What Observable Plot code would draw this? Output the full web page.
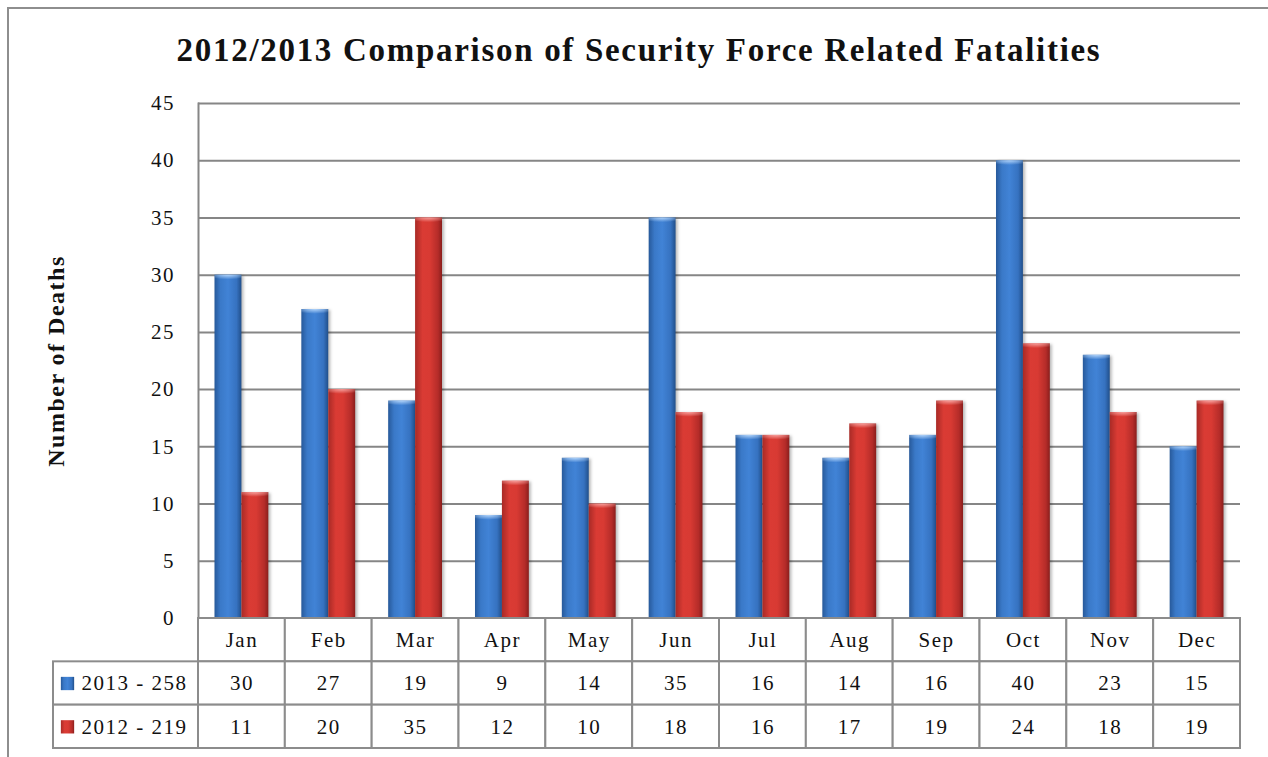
<!DOCTYPE html>
<html>
<head>
<meta charset="utf-8">
<script src="https://cdn.jsdelivr.net/npm/d3@7"></script>
<script src="https://cdn.jsdelivr.net/npm/@observablehq/plot@0.6"></script>
<style>
  body { margin: 0; background: #fff; }
  #chart { position: relative; width: 1268px; height: 757px; overflow: hidden; background: #fff;
           font-family: "Liberation Serif", "DejaVu Serif", serif; color: #111; }
  #border { position: absolute; left: 7px; top: 7px; right: -10px; bottom: -10px;
            border-top: 2px solid #8e8e8e; border-left: 2px solid #8e8e8e; }
  #title { position: absolute; left: 0; width: 1278px; top: 34px; text-align: center;
           font-size: 33px; font-weight: bold; line-height: 33px; letter-spacing: 1.7px; }
  .layer { position: absolute; left: 0; }
  .bars g[aria-label="bar"] { filter: drop-shadow(2px 1px 1.5px rgba(0,0,0,0.28)); }
</style>
</head>
<body>
<div id="chart">
  <div id="border"></div>
  <div id="title">2012/2013 Comparison of Security Force Related Fatalities</div>
</div>
<script>
// Monthly security-force-related deaths
const months = ["Jan", "Feb", "Mar", "Apr", "May", "Jun", "Jul", "Aug", "Sep", "Oct", "Nov", "Dec"];
const deaths2013 = [30, 27, 19, 9, 14, 35, 16, 14, 16, 40, 23, 15];
const deaths2012 = [11, 20, 35, 12, 10, 18, 16, 17, 19, 24, 18, 19];
const yTicks = [0, 5, 10, 15, 20, 25, 30, 35, 40, 45];
const yLabel = "Number of Deaths";

const series = [
  {key: "2013", values: deaths2013, fill: "url(#grad2013)", cap: "url(#cap2013)"},
  {key: "2012", values: deaths2012, fill: "url(#grad2012)", cap: "url(#cap2012)"}
].map(s => ({...s, label: `${s.key} - ${d3.sum(s.values)}`}));

const rows = series.map(s => s.values.map((v, i) => ({month: months[i], value: v, key: s.key})));

// Cylinder-like shading for the bars and the legend swatches
function gradients() {
  const defs = d3.create("svg:defs");
  const linear = (id, stops) => {
    const g = defs.append("linearGradient").attr("id", id)
      .attr("x1", 0).attr("x2", 1).attr("y1", 0).attr("y2", 0);
    stops.forEach(([o, c]) => g.append("stop").attr("offset", o).attr("stop-color", c));
  };
  const radial = (id, c) => {
    const g = defs.append("radialGradient").attr("id", id)
      .attr("cx", 0.5).attr("cy", 0).attr("r", 0.75);
    g.append("stop").attr("offset", 0).attr("stop-color", c).attr("stop-opacity", 0.95);
    g.append("stop").attr("offset", 1).attr("stop-color", c).attr("stop-opacity", 0);
  };
  linear("grad2013", [[0, "#27599a"], [0.22, "#3a79c8"], [0.5, "#4183d6"], [0.82, "#3672c0"], [1, "#214f8a"]]);
  linear("grad2012", [[0, "#a82a26"], [0.28, "#da3b34"], [0.55, "#d83a33"], [0.85, "#b52c29"], [1, "#8a1e1c"]]);
  radial("cap2013", "#b8d8fb");
  radial("cap2012", "#f8a6a3");
  return defs.node();
}

const textStyle = {
  fontFamily: "Liberation Serif, DejaVu Serif, serif",
  fontSize: "21px",
  letterSpacing: "1.5px",
  color: "#111",
  background: "transparent"
};

const bandWidth = (1240 - 198) / months.length;
const gap = 16.5;           // empty space on each side of a bar pair
const half = bandWidth / 2;

const barsPlot = Plot.plot({
  className: "bars",
  width: 1268,
  height: 640,
  marginTop: 103,
  marginBottom: 22,
  marginLeft: 198,
  marginRight: 28,
  style: textStyle,
  x: {type: "band", domain: months, padding: 0, round: false, axis: null},
  y: {domain: [0, 45], axis: null},
  marks: [
    gradients,
    Plot.gridY(yTicks, {stroke: "#868686", strokeOpacity: 1, strokeWidth: 2}),
    Plot.frame({anchor: "left", stroke: "#868686", strokeWidth: 2}),
    Plot.axisY(yTicks, {tickSize: 0, tickPadding: 23.5, fontSize: 21, label: null, tickFormat: d => `${d}`}),
    Plot.text([yLabel], {frameAnchor: "left", textAnchor: "middle", rotate: -90, dx: -142, fontSize: 24, fontWeight: "bold"}),
    ...series.map((s, k) => Plot.barY(rows[k], {
      x: "month", y: "value", fill: s.fill,
      insetLeft: k === 0 ? gap : half, insetRight: k === 0 ? half : gap
    })),
    ...series.map((s, k) => Plot.rectY(rows[k], {
      x: "month", y1: d => d.value - 0.55, y2: "value", fill: s.cap,
      insetLeft: k === 0 ? gap : half, insetRight: k === 0 ? half : gap
    })),
    Plot.ruleY([0], {stroke: "#868686", strokeWidth: 2})
  ]
});

// Data table under the bars: a header row of months, then one row per year
const legendSpan = 145 / bandWidth;
const headerCells = months.map((m, i) => ({x1: i, x2: i + 1, row: "head", text: m}));
const valueCells = series.flatMap(s => s.values.map((v, i) => ({x1: i, x2: i + 1, row: s.key, text: `${v}`})));
const legendCells = series.map(s => ({x1: -legendSpan, x2: 0, row: s.key, text: s.label, swatch: s.fill}));
const cells = [...headerCells, ...valueCells];

const tablePlot = Plot.plot({
  width: 1268,
  height: 141,
  marginTop: 2,
  marginBottom: 9,
  marginLeft: 53,
  marginRight: 28,
  style: textStyle,
  x: {domain: [-legendSpan, months.length], axis: null},
  y: {type: "band", domain: ["head", ...series.map(s => s.key)], padding: 0, round: false, axis: null},
  marks: [
    Plot.barX([...cells, ...legendCells], {x1: "x1", x2: "x2", y: "row", fill: "white", stroke: "#8c8c8c", strokeWidth: 2}),
    Plot.text(cells, {x: d => (d.x1 + d.x2) / 2, y: "row", text: "text", fontSize: 21}),
    Plot.dot(legendCells, {x: "x1", y: "row", dx: 14, symbol: "square", r: 7.5, fill: "swatch", stroke: null}),
    Plot.text(legendCells, {x: "x1", y: "row", dx: 28, text: "text", textAnchor: "start", fontSize: 21})
  ]
});

const chart = document.getElementById("chart");
barsPlot.classList.add("layer");
barsPlot.style.top = "0px";
tablePlot.classList.add("layer");
tablePlot.style.top = "616px";
chart.appendChild(barsPlot);
chart.appendChild(tablePlot);
</script>
</body>
</html>
